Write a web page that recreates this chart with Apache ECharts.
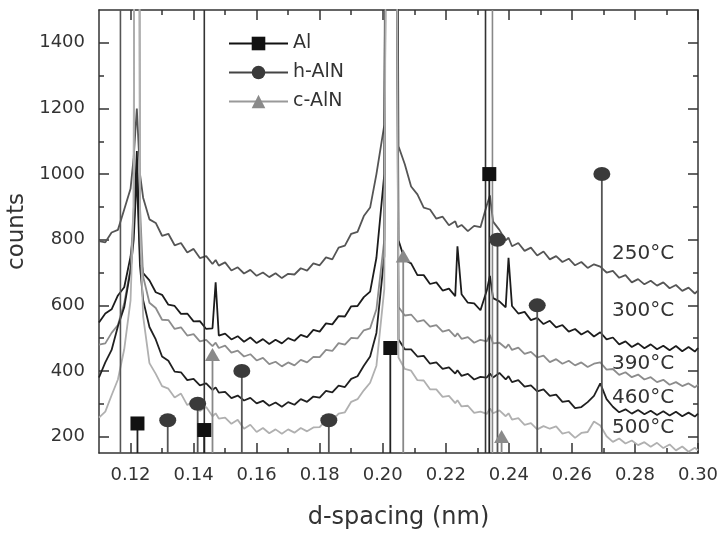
<!DOCTYPE html>
<html><head><meta charset="utf-8">
<script src="https://cdn.jsdelivr.net/npm/echarts/dist/echarts.min.js"></script>
<style>html,body{margin:0;padding:0;background:#fff}#c{width:722px;height:536px}</style>
</head><body><div id="c"></div>
<script>
const dSpacing = [
0.110,0.112,0.114,0.116,0.118,0.120,0.121,0.122,0.123,0.124,
0.126,0.128,0.130,0.132,0.134,0.136,0.138,0.140,0.142,0.144,
0.146,0.147,0.148,0.150,0.152,0.154,0.156,0.158,0.160,0.162,
0.164,0.166,0.168,0.170,0.172,0.174,0.176,0.178,0.180,0.182,
0.184,0.186,0.188,0.190,0.192,0.194,0.196,0.198,0.2005,0.2027,
0.205,0.207,0.209,0.211,0.213,0.215,0.217,0.219,0.221,0.223,
0.2237,0.225,0.227,0.229,0.231,0.233,0.234,0.235,0.237,0.239,
0.2399,0.241,0.243,0.245,0.247,0.249,0.251,0.253,0.255,0.257,
0.259,0.261,0.263,0.265,0.267,0.269,0.271,0.273,0.275,0.277,
0.279,0.281,0.283,0.285,0.287,0.289,0.291,0.293,0.295,0.297,
0.299,0.300];
const counts250 = [
796,792,822,830,892,955,1050,1200,1000,928,
862,851,812,818,783,790,761,772,744,750,
726,738,721,731,706,716,697,708,690,700,
686,698,683,696,694,713,706,728,722,746,
740,776,782,818,824,872,898,1000,1150,6000,
1085,1030,962,938,898,892,864,870,844,856,
838,845,826,842,838,905,935,855,830,798,
806,780,790,766,776,752,764,740,750,732,
742,722,732,714,725,718,700,705,684,692,
670,680,664,675,660,670,652,662,644,654,
636,645];
const counts300 = [
548,575,588,630,655,748,830,1070,760,698,
676,640,632,602,598,574,575,551,552,528,
530,670,508,514,496,506,489,502,485,497,
482,495,484,500,492,510,503,525,520,545,
542,567,566,597,598,625,642,745,1000,6000,
798,738,728,692,692,665,670,645,651,628,
780,634,608,606,585,645,690,622,612,594,
745,598,575,580,555,562,543,553,533,540,
520,528,511,522,505,518,496,502,481,490,
473,484,469,481,466,477,463,476,460,473,
459,470];
const counts390 = [
480,484,516,540,606,714,900,6000,900,688,
608,592,556,555,528,533,508,512,490,495,
476,486,470,477,456,462,444,451,432,440,
421,428,414,426,417,434,426,443,442,464,
461,485,480,501,499,524,530,588,800,6000,
595,569,572,550,555,535,540,520,525,505,
515,498,503,486,495,490,510,484,486,470,
481,464,471,452,458,441,447,427,436,422,
431,417,426,412,422,426,404,406,388,396,
381,389,374,381,366,373,358,366,354,362,
350,358];
const counts460 = [
380,426,464,536,594,706,800,1000,720,616,
534,496,444,431,398,396,372,376,356,362,
342,350,334,336,317,325,310,318,301,309,
294,304,291,305,297,314,306,322,319,339,
335,355,351,376,384,416,444,516,750,6000,
496,466,466,444,446,422,426,406,411,392,
402,385,391,374,382,380,392,380,394,374,
384,366,372,352,356,338,344,324,328,306,
309,287,290,305,324,362,314,291,274,283,
270,281,268,279,266,277,264,276,262,273,
261,270];
const counts500 = [
258,276,326,374,466,614,900,6000,850,566,
424,391,354,346,319,331,296,308,278,290,
262,271,255,258,239,251,224,236,214,226,
210,222,209,222,212,226,216,228,229,251,
249,270,274,306,314,341,364,416,650,6000,
441,406,401,372,371,344,344,321,324,302,
311,292,294,272,276,269,286,271,280,262,
271,252,256,236,241,222,232,224,231,209,
214,196,211,214,246,234,201,184,194,179,
188,174,183,169,181,165,176,158,170,154,
166,158];

const alD = [0.1222,0.1434,0.2024,0.2338];
const alC = [240,220,470,1000];
const hAlnD = [0.1318,0.1413,0.1553,0.1829,0.2364,0.2490,0.2695];
const hAlnC = [250,300,400,250,800,600,1000];
const cAlnD = [0.1460,0.2065,0.2377];
const cAlnC = [450,750,200];
const fullLineD = [0.1168,0.1434,0.2326,0.2348];

const xMajorTicks = [0.12,0.14,0.16,0.18,0.20,0.22,0.24,0.26,0.28,0.30];
const xMinorTicks = [0.13,0.15,0.17,0.19,0.21,0.23,0.25,0.27,0.29];
const yMajorTicks = [200,400,600,800,1000,1200,1400];
const yMinorTicks = [300,500,700,900,1100,1300];
const tempLabels = ['250°C','300°C','390°C','460°C','500°C'];
const seriesNames = ['Al','h-AlN','c-AlN'];

const X_MIN = 0.11, X_MAX = 0.30, Y_MIN = 150, Y_MAX = 1500;
const FONT = 'DejaVu Sans';
const AX = '#333';

const curves = [
  {data: counts250, color: '#555555'},
  {data: counts300, color: '#1c1c1c'},
  {data: counts390, color: '#8c8c8c'},
  {data: counts460, color: '#202020'},
  {data: counts500, color: '#b0b0b0'}
];

function stemSeries(ds, cs, color, width) {
  return {
    type: 'custom', xAxisIndex: 0, yAxisIndex: 0, silent: true, z: 3,
    data: ds.map((d, i) => [d, cs[i], Y_MIN]),
    renderItem: function (p, api) {
      const t = api.coord([api.value(0), api.value(1)]);
      const b = api.coord([api.value(0), api.value(2)]);
      return {type: 'line', shape: {x1: t[0], y1: t[1], x2: b[0], y2: b[1]},
              style: {stroke: color, lineWidth: width}};
    }
  };
}

function markerSeries(name, ds, cs, symbol, size, color, lineColor) {
  return {
    name: name, type: 'line', xAxisIndex: 0, yAxisIndex: 0, z: 5,
    data: ds.map((d, i) => [d, cs[i]]),
    symbol: symbol, symbolSize: size, showSymbol: true,
    itemStyle: {color: color},
    lineStyle: {width: 0, color: lineColor},
    silent: true, animation: false
  };
}

const fullLineColors = ['#555', '#333', '#333', '#888'];

const series = [];
fullLineD.forEach((d, i) => {
  series.push(stemSeries([d], [Y_MAX], fullLineColors[i], 1.6));
});
curves.forEach(c => {
  series.push({
    type: 'line', xAxisIndex: 0, yAxisIndex: 0, z: 2,
    data: dSpacing.map((d, i) => [d, c.data[i]]),
    showSymbol: false, silent: true, clip: true,
    lineStyle: {color: c.color, width: 1.8}
  });
});
series.push(stemSeries(alD, alC, '#222', 1.8));
series.push(stemSeries(hAlnD, hAlnC, '#555', 1.8));
series.push(stemSeries(cAlnD, cAlnC, '#888', 1.8));
series.push(markerSeries(seriesNames[0], alD, alC, 'rect', 14, '#111', '#111'));
series.push(markerSeries(seriesNames[1], hAlnD, hAlnC, 'circle', [17, 14], '#3a3a3a', '#444'));
series.push(markerSeries(seriesNames[2], cAlnD, cAlnC, 'triangle', [15, 13], '#8a8a8a', '#999'));

const tickLabel = {fontFamily: FONT, fontSize: 18, color: '#333'};

function xAx(grid, pos, ticks, len, labels, name) {
  return {
    type: 'value', gridIndex: grid, position: pos, min: X_MIN, max: X_MAX,
    splitLine: {show: false},
    axisLine: {show: grid === 0, lineStyle: {color: AX, width: 1.5}},
    axisTick: {show: true, inside: true, length: len, customValues: ticks, lineStyle: {color: AX, width: 1.5}},
    axisLabel: labels ? Object.assign({show: true, customValues: ticks, margin: 13,
      formatter: v => Number(v).toFixed(2)}, tickLabel) : {show: false},
    name: name || '', nameLocation: 'middle', nameGap: 53,
    nameTextStyle: {fontFamily: FONT, fontSize: 24, color: '#333'}
  };
}
function yAx(grid, pos, ticks, len, labels, name) {
  return {
    type: 'value', gridIndex: grid, position: pos, min: Y_MIN, max: Y_MAX,
    splitLine: {show: false},
    axisLine: {show: grid === 0, lineStyle: {color: AX, width: 1.5}},
    axisTick: {show: true, inside: true, length: len, customValues: ticks, lineStyle: {color: AX, width: 1.5}},
    axisLabel: labels ? Object.assign({show: true, customValues: ticks, margin: 14,
      formatter: v => String(Math.round(v))}, tickLabel) : {show: false},
    name: name || '', nameLocation: 'middle', nameGap: 62, nameRotate: 90,
    nameTextStyle: {fontFamily: FONT, fontSize: 23, color: '#333'}
  };
}

const gridRect = {left: 99, right: 24, top: 10, bottom: 83, containLabel: false, outerBoundsMode: 'none'};
const tempY = [255, 312, 365, 399, 429];

const option = {
  backgroundColor: '#fff',
  animation: false,
  grid: [Object.assign({}, gridRect), Object.assign({}, gridRect)],
  xAxis: [
    xAx(0, 'bottom', xMajorTicks, 10, true, 'd-spacing (nm)'),
    xAx(0, 'top', xMajorTicks, 10, false),
    xAx(1, 'bottom', xMinorTicks, 5, false),
    xAx(1, 'top', xMinorTicks, 5, false)
  ],
  yAxis: [
    yAx(0, 'left', yMajorTicks, 10, true, 'counts'),
    yAx(0, 'right', yMajorTicks, 10, false),
    yAx(1, 'left', yMinorTicks, 5, false),
    yAx(1, 'right', yMinorTicks, 5, false)
  ],
  legend: {
    data: seriesNames, orient: 'vertical', left: 223, top: 29,
    itemWidth: 59, itemHeight: 17, itemGap: 10, selectedMode: false,
    textStyle: {fontFamily: FONT, fontSize: 19, color: '#333'},
    lineStyle: {width: 2}
  },
  graphic: tempLabels.map((t, i) => ({
    type: 'text', left: 612, top: tempY[i] - 11, z: 10,
    style: {text: t, font: '20px "DejaVu Sans"', fill: '#333'}
  })),
  series: series
};

const chart = echarts.init(document.getElementById('c'), null, {renderer: 'canvas'});
chart.setOption(option);
</script>
</body></html>
